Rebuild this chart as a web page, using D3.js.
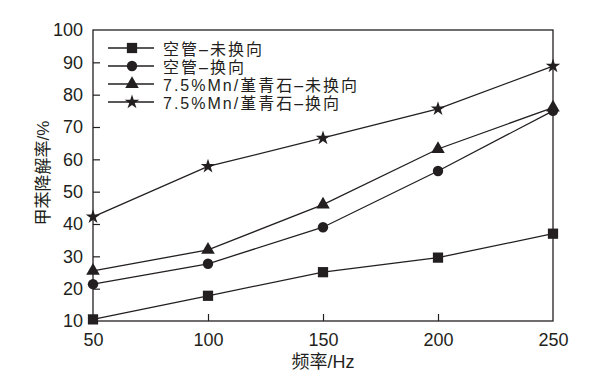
<!DOCTYPE html>
<html>
<head>
<meta charset="utf-8">
<script src="https://d3js.org/d3.v7.min.js"></script>
<style>
  body { margin: 0; background: #fff; }
  text { font-family: "Liberation Sans", Arial, "Noto Sans CJK SC", sans-serif; fill: #231f20; }
</style>
</head>
<body>
<div id="chart"></div>
<script>
// data
const freqs = [50, 100, 150, 200, 250];
const yTicks = [10, 20, 30, 40, 50, 60, 70, 80, 90, 100];
const seriesNames = ['空管–未换向', '空管–换向', '7.5%Mn/堇青石–未换向', '7.5%Mn/堇青石–换向'];
const emptyNoSwitch = [10.5, 17.8, 25.1, 29.6, 37.0];
const emptySwitch = [21.4, 27.7, 39.0, 56.4, 75.0];
const mnNoSwitch = [25.5, 32.0, 46.0, 63.2, 76.0];
const mnSwitch = [42.2, 57.8, 66.6, 75.6, 88.8];
const symbols = [d3.symbolSquare, d3.symbolCircle, d3.symbolTriangle, d3.symbolStar];
const symbolSizes = [105, 85, 80, 65];

const W = 590, H = 380;
const margin = { top: 30, right: 37, bottom: 59, left: 93 };
const width = W - margin.left - margin.right;
const height = H - margin.top - margin.bottom;
const ink = '#231f20';

const svg = d3.select('#chart').append('svg')
  .attr('width', W).attr('height', H);
const g = svg.append('g').attr('transform', `translate(${margin.left},${margin.top})`);

const x = d3.scaleLinear().domain([50, 250]).range([0, width]);
const y = d3.scaleLinear().domain([10, 100]).range([height, 0]);

// frame
g.append('rect')
  .attr('width', width).attr('height', height)
  .attr('fill', 'none').attr('stroke', ink).attr('stroke-width', 1.3);

// axes with inward ticks
const xAxis = g.append('g').attr('transform', `translate(0,${height})`)
  .call(d3.axisBottom(x).tickValues(freqs).tickSizeInner(-7).tickSizeOuter(0).tickPadding(12));
const yAxis = g.append('g')
  .call(d3.axisLeft(y).tickValues(yTicks).tickSizeInner(-7).tickSizeOuter(0).tickPadding(10));
[xAxis, yAxis].forEach(a => {
  a.select('.domain').remove();
  a.selectAll('.tick line').attr('stroke', ink).attr('stroke-width', 1.2);
  a.selectAll('.tick text').attr('font-size', 18).attr('fill', ink)
    .style('font-family', '"Liberation Sans", Arial, sans-serif');
});
xAxis.selectAll('.tick').filter(d => d === 50 || d === 250).select('line').remove();
yAxis.selectAll('.tick').filter(d => d === 10 || d === 100).select('line').remove();

// axis titles
svg.append('text')
  .attr('x', margin.left + width / 2).attr('y', 368)
  .attr('text-anchor', 'middle').attr('font-size', 18)
  .text('频率/Hz');
svg.append('text')
  .attr('transform', `translate(49,${173}) rotate(-90)`)
  .attr('text-anchor', 'middle').attr('font-size', 17)
  .text('甲苯降解率/%');

// series
const allSeries = [emptyNoSwitch, emptySwitch, mnNoSwitch, mnSwitch];
const line = d3.line().x((d, i) => x(freqs[i])).y(d => y(d));

allSeries.forEach((vals, k) => {
  g.append('path').datum(vals)
    .attr('d', line)
    .attr('fill', 'none').attr('stroke', ink).attr('stroke-width', 1.3);
  g.selectAll(null).data(vals).enter().append('path')
    .attr('transform', (d, i) => `translate(${x(freqs[i])},${y(d)})`)
    .attr('d', d3.symbol().type(symbols[k]).size(symbolSizes[k]))
    .attr('fill', ink);
});

// legend
const legend = svg.append('g').attr('transform', 'translate(108,48)');
seriesNames.forEach((name, k) => {
  const row = legend.append('g').attr('transform', `translate(0,${k * 18})`);
  row.append('line').attr('x1', 0).attr('x2', 46).attr('y1', 0).attr('y2', 0)
    .attr('stroke', ink).attr('stroke-width', 1.3);
  row.append('path').attr('transform', 'translate(24,0)')
    .attr('d', d3.symbol().type(symbols[k]).size(symbolSizes[k]))
    .attr('fill', ink);
  row.append('text').attr('x', 55).attr('y', 6.5)
    .attr('font-size', 16).attr('letter-spacing', 2).text(name);
});
</script>
</body>
</html>
